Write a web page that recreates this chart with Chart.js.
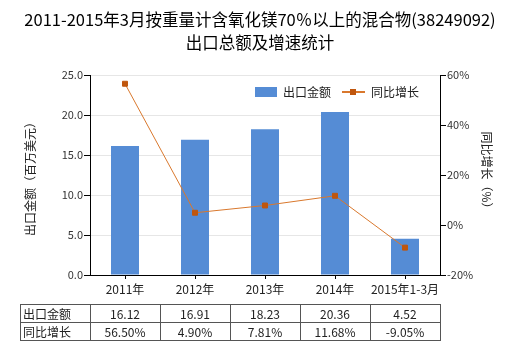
<!DOCTYPE html>
<html>
<head>
<meta charset="utf-8">
<script src="https://cdn.jsdelivr.net/npm/chart.js@4"></script>
<style>
  body { margin: 0; background: #fff; }
</style>
</head>
<body>
<canvas id="chart" width="520" height="350"></canvas>
<script>
// 数据
const categories = ['2011年', '2012年', '2013年', '2014年', '2015年1-3月'];
const exportAmount = [16.12, 16.91, 18.23, 20.36, 4.52];   // 出口金额（百万美元）
const growthRate = [56.50, 4.90, 7.81, 11.68, -9.05];     // 同比增长（%）

const FONT = '"Noto Sans CJK SC", "DejaVu Sans", sans-serif';
const BAR_COLOR = '#558cd5';
const LINE_COLOR = '#d9782d';
const POINT_COLOR = '#c0560d';

// 标题、图例、坐标轴标题和底部数据表
const extras = {
    id: 'extras',
    afterDraw(chart) {
        const c = chart.ctx;
        const area = chart.chartArea;
        const x = chart.scales.x;
        c.save();

        // 标题
        c.fillStyle = '#000';
        c.textAlign = 'center';
        c.textBaseline = 'middle';
        c.font = '16.5px ' + FONT;
        c.fillText('2011-2015年3月按重量计含氧化镁70％以上的混合物(38249092)', 260, 20);
        c.fillText('出口总额及增速统计', 260, 43);

        // 坐标轴标题
        c.font = '12px ' + FONT;
        c.fillStyle = '#222';
        c.save();
        c.translate(30, 176);
        c.rotate(-Math.PI / 2);
        c.fillText('出口金额（百万美元）', 0, 0);
        c.restore();
        c.save();
        c.translate(487, 173);
        c.rotate(Math.PI / 2);
        c.fillText('同比增长（%）', 0, 0);
        c.restore();

        // 图例
        c.textAlign = 'left';
        c.fillStyle = BAR_COLOR;
        c.fillRect(255, 87, 22, 10);
        c.fillStyle = '#222';
        c.fillText('出口金额', 283, 92);
        c.strokeStyle = LINE_COLOR;
        c.lineWidth = 2;
        c.beginPath();
        c.moveTo(342, 92);
        c.lineTo(365, 92);
        c.stroke();
        c.fillStyle = POINT_COLOR;
        c.fillRect(350, 89, 6, 6);
        c.fillStyle = '#222';
        c.fillText('同比增长', 371, 92);

        // 数据表
        const top = 304, mid = 322, bottom = 340;
        const left = 20;
        const colW = (area.right - area.left) / categories.length;
        c.strokeStyle = '#555';
        c.lineWidth = 1;
        c.beginPath();
        [top, mid, bottom].forEach(yy => {
            c.moveTo(left, yy + 0.5);
            c.lineTo(area.right + 0.5, yy + 0.5);
        });
        c.moveTo(left + 0.5, top);
        c.lineTo(left + 0.5, bottom + 1);
        for (let i = 0; i <= categories.length; i++) {
            const xx = Math.round(area.left + i * colW) + 0.5;
            c.moveTo(xx, top);
            c.lineTo(xx, bottom + 1);
        }
        c.stroke();

        c.fillStyle = '#222';
        c.font = '12px ' + FONT;
        c.textAlign = 'left';
        c.fillText('出口金额', left + 3, (top + mid) / 2 + 1);
        c.fillText('同比增长', left + 3, (mid + bottom) / 2 + 1);
        c.textAlign = 'center';
        categories.forEach((_, i) => {
            const cx = x.getPixelForValue(i);
            c.fillText(exportAmount[i].toFixed(2), cx, (top + mid) / 2 + 1);
            c.fillText(growthRate[i].toFixed(2) + '%', cx, (mid + bottom) / 2 + 1);
        });

        c.restore();
    }
};

const ctx = document.getElementById('chart').getContext('2d');
new Chart(ctx, {
    type: 'bar',
    data: {
        labels: categories,
        datasets: [
            {
                type: 'line',
                label: '同比增长',
                data: growthRate,
                yAxisID: 'y1',
                borderColor: LINE_COLOR,
                borderWidth: 1,
                pointStyle: 'rect',
                pointRadius: 3.5,
                pointBackgroundColor: POINT_COLOR,
                pointBorderColor: POINT_COLOR,
                tension: 0,
                order: 1
            },
            {
                label: '出口金额',
                data: exportAmount,
                yAxisID: 'y',
                backgroundColor: BAR_COLOR,
                barPercentage: 0.4,
                categoryPercentage: 1,
                order: 2
            }
        ]
    },
    options: {
        responsive: false,
        animation: false,
        layout: { padding: { top: 75, left: 0, right: 0, bottom: 0 } },
        plugins: {
            legend: { display: false },
            title: { display: false },
            tooltip: { enabled: false }
        },
        scales: {
            x: {
                afterFit: s => { s.height = 75; },
                grid: { drawOnChartArea: false, offset: false, tickLength: 4, color: '#000' },
                border: { color: '#000' },
                ticks: {
                    padding: 3,
                    autoSkip: false,
                    maxRotation: 0,
                    color: '#222',
                    font: { size: 12, family: FONT }
                }
            },
            y: {
                position: 'left',
                min: 0,
                max: 25,
                afterFit: s => { s.width = 90; },
                grid: { color: '#e6e6e6', tickColor: '#000', tickLength: 6 },
                border: { color: '#000' },
                ticks: {
                    stepSize: 5,
                    padding: 1,
                    color: '#333',
                    font: { size: 11, family: FONT },
                    callback: v => v.toFixed(1)
                }
            },
            y1: {
                position: 'right',
                min: -20,
                max: 60,
                afterFit: s => { s.width = 80; },
                grid: { drawOnChartArea: false, tickColor: '#000', tickLength: 6 },
                border: { color: '#000' },
                ticks: {
                    stepSize: 20,
                    padding: 1,
                    color: '#333',
                    font: { size: 11, family: FONT },
                    callback: v => v + '%'
                }
            }
        }
    },
    plugins: [extras]
});
</script>
</body>
</html>
